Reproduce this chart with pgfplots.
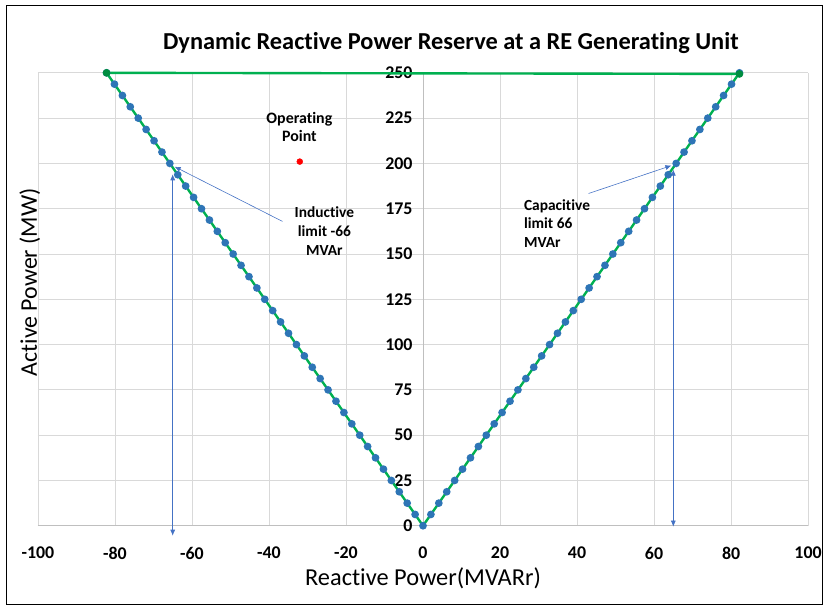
\documentclass[border=0pt]{standalone}
\usepackage{fontspec}
\setmainfont{Carlito}[Ligatures=NoCommon]
\usepackage{pgfplots}
\pgfplotsset{compat=1.18}
\usetikzlibrary{arrows.meta}

\definecolor{linegreen}{RGB}{0,176,80}
\definecolor{markblue}{RGB}{46,117,182}
\definecolor{arrowblue}{RGB}{68,114,196}
\definecolor{gridgray}{RGB}{217,217,217}
\definecolor{axgray}{RGB}{191,191,191}

% capability curve, Q = P*tan(acos 0.95)
\pgfplotstableread{
q p
-82.17 250
-80.12 243.75
-78.06 237.5
-76.01 231.25
-73.95 225
-71.90 218.75
-69.84 212.5
-67.79 206.25
-65.74 200
-63.68 193.75
-61.63 187.5
-59.57 181.25
-57.52 175
-55.46 168.75
-53.41 162.5
-51.36 156.25
-49.30 150
-47.25 143.75
-45.19 137.5
-43.14 131.25
-41.09 125
-39.03 118.75
-36.98 112.5
-34.92 106.25
-32.87 100
-30.81 93.75
-28.76 87.5
-26.71 81.25
-24.65 75
-22.60 68.75
-20.54 62.5
-18.49 56.25
-16.43 50
-14.38 43.75
-12.33 37.5
-10.27 31.25
-8.22 25
-6.16 18.75
-4.11 12.5
-2.05 6.25
0 0
2.05 6.25
4.11 12.5
6.16 18.75
8.22 25
10.27 31.25
12.33 37.5
14.38 43.75
16.43 50
18.49 56.25
20.54 62.5
22.60 68.75
24.65 75
26.71 81.25
28.76 87.5
30.81 93.75
32.87 100
34.92 106.25
36.98 112.5
39.03 118.75
41.09 125
43.14 131.25
45.19 137.5
47.25 143.75
49.30 150
51.36 156.25
53.41 162.5
55.46 168.75
57.52 175
59.57 181.25
61.63 187.5
63.68 193.75
65.74 200
67.79 206.25
69.84 212.5
71.90 218.75
73.95 225
76.01 231.25
78.06 237.5
80.12 243.75
82.17 250
}\curve

\begin{document}
\begin{tikzpicture}
\path (0,0) rectangle (825bp,607bp);
\begin{axis}[
    at={(38bp,80bp)}, anchor=south west,
    scale only axis,
    width=772bp, height=454bp,
    xmin=-100, xmax=100, ymin=0, ymax=250,
    xtick={-100,-80,...,100},
    ytick={0,25,...,250},
    axis x line=bottom,
    axis y line=center,
    hide obscured y ticks=false,
    hide obscured x ticks=false,
    axis line style={axgray, line width=0.8pt, -},
    grid=major,
    major grid style={gridgray, line width=0.8pt},
    major tick length=0pt,
    /pgf/number format/assume math mode=true,
    ticklabel style={font=\bfseries\fontsize{18}{21}\selectfont},
    xticklabel style={yshift=-18bp},
    yticklabel style={xshift=-7bp},
    clip=false,
]
\addplot[linegreen, line width=2.4pt, mark=*, mark size=2.6bp,
    mark options={markblue, draw=markblue}] table[x=q, y=p] {\curve};
\addplot[linegreen, line width=2.4pt, mark=*, mark size=2.6bp,
    mark options={fill=linegreen!80!black, draw=linegreen!80!black}]
    coordinates {(-82.17,250) (82.17,249.4)};
\addplot[only marks, mark=*, mark size=3bp, red] coordinates {(-32,201)};

\draw[arrowblue, line width=0.6pt, -{Latex[length=6bp,width=5bp]}]
    (axis cs:-36.5,168) -- (axis cs:-64.5,198.2);
\draw[arrowblue, line width=0.6pt, {Latex[length=6bp,width=5bp]}-{Latex[length=6bp,width=5bp]}]
    (axis cs:-65,-5.5) -- (axis cs:-65,194);
\draw[arrowblue, line width=0.6pt, -{Latex[length=6bp,width=5bp]}]
    (axis cs:43,183.4) -- (axis cs:64.5,198.8);
\draw[arrowblue, line width=0.6pt, {Latex[length=6bp,width=5bp]}-{Latex[length=6bp,width=5bp]}]
    (axis cs:65,-0.5) -- (axis cs:65,196.6);

\node[font=\bfseries\fontsize{16}{18}\selectfont, align=center]
    at (axis cs:-32.1,220.2) {Operating\\Point};
\node[font=\bfseries\fontsize{15.5}{19}\selectfont, align=center]
    at (axis cs:-25.6,162.6) {Inductive\\limit -66\\MVAr};
\node[font=\bfseries\fontsize{15.5}{19}\selectfont, align=left, anchor=west, inner sep=0pt]
    at (axis cs:26.2,166.8) {Capacitive\\limit 66\\MVAr};
\end{axis}
\node[font=\bfseries\fontsize{24.5}{28}\selectfont] at (452bp,564bp)
    {Dynamic Reactive Power Reserve at a RE Generating Unit};
\node[font=\fontsize{24.5}{28}\selectfont] at (424bp,27bp) {Reactive Power(MVARr)};
\node[font=\fontsize{24}{28}\selectfont, rotate=90] at (30bp,324bp) {Active Power (MW)};
\draw[black, line width=1pt] (7bp,1.5bp) rectangle (824.5bp,601bp);
\end{tikzpicture}
\end{document}
